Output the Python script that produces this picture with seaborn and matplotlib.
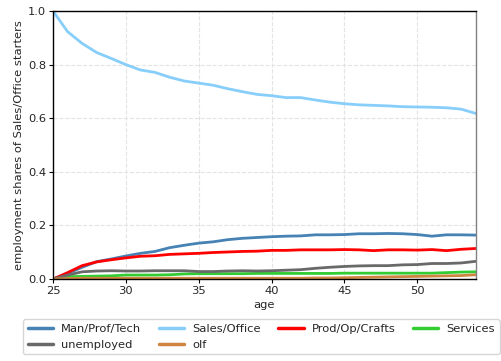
import numpy as np
import pandas as pd
import matplotlib
matplotlib.use("Agg")
import matplotlib.pyplot as plt
import seaborn as sns

ages = list(range(25, 55))

man_prof_tech = [0.0, 0.021, 0.044, 0.065, 0.075, 0.086, 0.096, 0.103, 0.117, 0.126,
                 0.134, 0.139, 0.147, 0.152, 0.155, 0.158, 0.160, 0.161, 0.165, 0.165,
                 0.166, 0.169, 0.169, 0.170, 0.169, 0.166, 0.160, 0.165, 0.165, 0.164]
sales_office = [1.0, 0.923, 0.879, 0.845, 0.823, 0.800, 0.780, 0.771, 0.753, 0.739,
                0.731, 0.723, 0.710, 0.699, 0.689, 0.684, 0.677, 0.677, 0.668, 0.660,
                0.654, 0.650, 0.648, 0.646, 0.643, 0.642, 0.641, 0.639, 0.634, 0.618]
prod_op_crafts = [0.0, 0.024, 0.050, 0.064, 0.072, 0.079, 0.085, 0.087, 0.092, 0.094,
                  0.096, 0.099, 0.101, 0.103, 0.104, 0.107, 0.107, 0.109, 0.109, 0.109,
                  0.110, 0.109, 0.106, 0.109, 0.109, 0.108, 0.110, 0.106, 0.111, 0.114]
services = [0.0, 0.009, 0.010, 0.011, 0.012, 0.015, 0.015, 0.015, 0.016, 0.019,
            0.020, 0.020, 0.020, 0.020, 0.021, 0.021, 0.021, 0.021, 0.021, 0.021,
            0.022, 0.022, 0.022, 0.022, 0.022, 0.022, 0.022, 0.024, 0.026, 0.027]
unemployed = [0.0, 0.015, 0.027, 0.030, 0.031, 0.030, 0.030, 0.031, 0.031, 0.031,
              0.028, 0.028, 0.030, 0.031, 0.030, 0.031, 0.033, 0.035, 0.040, 0.044,
              0.047, 0.049, 0.050, 0.050, 0.053, 0.054, 0.058, 0.058, 0.060, 0.066]
olf = [0.0, 0.002, 0.003, 0.003, 0.003, 0.003, 0.003, 0.003, 0.003, 0.003,
       0.003, 0.003, 0.003, 0.003, 0.003, 0.003, 0.003, 0.003, 0.004, 0.004,
       0.005, 0.006, 0.007, 0.008, 0.009, 0.010, 0.011, 0.012, 0.013, 0.016]

series = {
    "Man/Prof/Tech": man_prof_tech,
    "Sales/Office": sales_office,
    "Prod/Op/Crafts": prod_op_crafts,
    "Services": services,
    "unemployed": unemployed,
    "olf": olf,
}
palette = {
    "Man/Prof/Tech": "#4682b4",
    "Sales/Office": "#87cefa",
    "Prod/Op/Crafts": "#ff0000",
    "Services": "#32cd32",
    "unemployed": "#696969",
    "olf": "#cd853f",
}

df = pd.DataFrame(
    [(a, name, v) for name, vals in series.items() for a, v in zip(ages, vals)],
    columns=["age", "occupation", "share"],
)

sns.set_style("white")
plt.rcParams["font.family"] = ["DejaVu Sans"]
fs = 8.25
plt.rcParams["font.size"] = fs

fig = plt.figure(figsize=(5.02, 3.61), dpi=100)
ax = fig.add_axes([0.1056, 0.227, 0.8418, 0.7425])

sns.lineplot(data=df, x="age", y="share", hue="occupation",
             hue_order=list(series.keys()), palette=palette,
             linewidth=2, ax=ax, legend=False)

ax.set_xlim(25, 54)
ax.set_ylim(0, 1.0)
ax.set_xticks([25, 30, 35, 40, 45, 50])
ax.set_yticks([0.0, 0.2, 0.4, 0.6, 0.8, 1.0])
ax.grid(True, linestyle="--", color="#e3e3e3", linewidth=0.8)
ax.set_axisbelow(True)
for s in ax.spines.values():
    s.set_color("black")
    s.set_linewidth(1.0)
ax.spines["right"].set_color("#808080")
ax.tick_params(labelsize=fs, length=3, width=0.8, color="black", pad=2,
               left=True, bottom=True, direction="out")
ax.set_xlabel("age", fontsize=fs, labelpad=3)
ax.set_ylabel("employment shares of Sales/Office starters", fontsize=fs, labelpad=3)

order = ["Man/Prof/Tech", "unemployed", "Sales/Office", "olf", "Prod/Op/Crafts", "Services"]
handles = [plt.Line2D([], [], color=palette[k], linewidth=2.5) for k in order]
fig.legend(handles, order, ncol=4, loc="upper left",
           bbox_to_anchor=(0.046, 0.115), fontsize=fs,
           frameon=True, fancybox=True, handlelength=2.2, handletextpad=0.7,
           columnspacing=1.55, borderaxespad=0.0)

fig.savefig("out.png", dpi=100)
